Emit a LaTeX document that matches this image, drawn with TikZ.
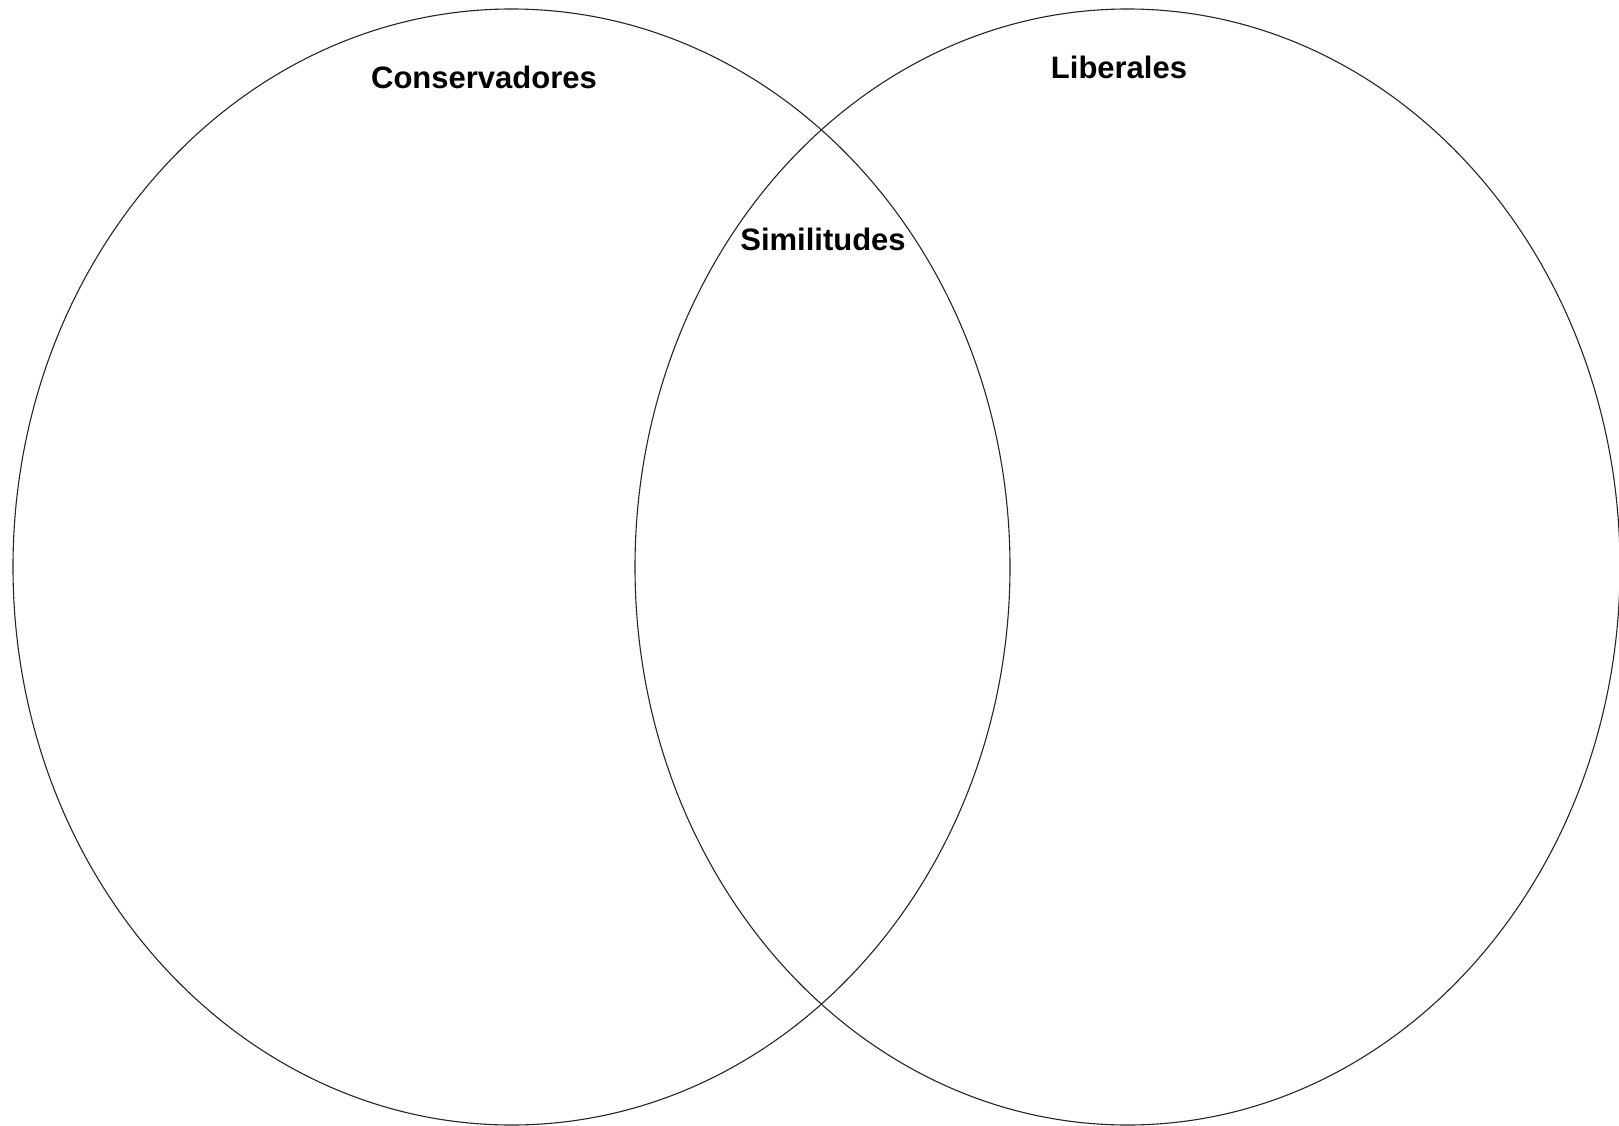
\documentclass[tikz,border=0pt]{standalone}
\usepackage{fontspec}
\setmainfont{Liberation Sans}
\usetikzlibrary{shapes.geometric}
\begin{document}
\begin{tikzpicture}[x=1pt,y=-1pt,
  venn/.style={draw=black!85,line width=1.1pt},
  lbl/.style={font=\fontsize{31}{36}\selectfont\bfseries,inner sep=0pt,anchor=base}]
\useasboundingbox (0,0) rectangle (1619,1126);
\fill[white] (0,0) rectangle (1619,1126);
\draw[venn] (511.5,567) ellipse [x radius=498.5, y radius=558];
\draw[venn] (1127.5,567) ellipse [x radius=492.5, y radius=558];
\node[lbl] (cons) at (484,89) {Conservadores};
\node[lbl] (lib) at (1119,79) {Liberales};
\node[lbl] (sim) at (823,250) {Similitudes};
\end{tikzpicture}
\end{document}
